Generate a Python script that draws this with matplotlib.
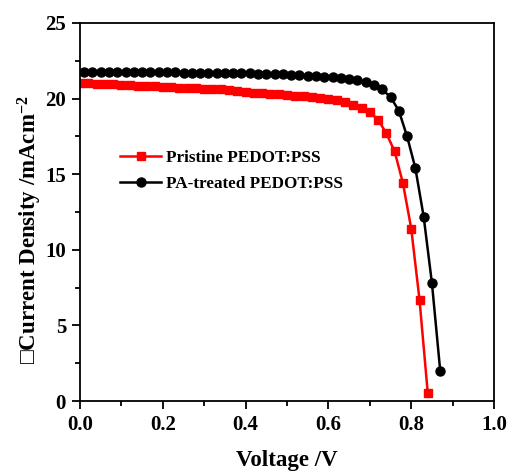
import numpy as np
import matplotlib
matplotlib.use('Agg')
import matplotlib.pyplot as plt

# J-V curves (V in volts, J in mA/cm2)
v_pristine = np.round(np.arange(0.0, 0.841, 0.02), 2)
j_pristine = [21.05, 21.0, 20.98, 20.95, 20.93, 20.9, 20.88, 20.85, 20.82, 20.8,
              20.78, 20.75, 20.72, 20.7, 20.68, 20.65, 20.62, 20.6, 20.55, 20.5,
              20.45, 20.4, 20.37, 20.33, 20.3, 20.25, 20.2, 20.15, 20.1, 20.05,
              20.0, 19.9, 19.8, 19.6, 19.4, 19.1, 18.6, 17.7, 16.5, 14.4,
              11.4, 6.7, 0.5]

v_pa = np.round(np.arange(0.01, 0.871, 0.02), 2)
j_pa = [21.76, 21.76, 21.76, 21.76, 21.75, 21.75, 21.75, 21.75, 21.74, 21.74,
        21.73, 21.73, 21.72, 21.72, 21.71, 21.7, 21.7, 21.69, 21.68, 21.67,
        21.66, 21.65, 21.64, 21.62, 21.6, 21.58, 21.55, 21.52, 21.48, 21.45,
        21.4, 21.35, 21.28, 21.2, 21.1,
        20.9, 20.6, 20.1, 19.2, 17.5, 15.4, 12.2, 7.8, 2.0]

plt.rcParams['font.family'] = ['Liberation Serif', 'DejaVu Sans']
plt.rcParams['font.weight'] = 'bold'
plt.rcParams['mathtext.fontset'] = 'custom'
plt.rcParams['mathtext.rm'] = 'Liberation Serif:bold'
plt.rcParams['mathtext.default'] = 'rm'

fig = plt.figure(figsize=(5.08, 4.72), dpi=100)
ax = fig.add_axes([0.1575, 0.1504, 0.815, 0.801])

ax.plot(v_pristine, j_pristine, color='red', marker='s', markersize=6, lw=1.8,
        label='Pristine PEDOT:PSS')
ax.plot(v_pa, j_pa, color='black', marker='o', markersize=6.5, lw=1.8,
        label='PA-treated PEDOT:PSS')

ax.set_xlim(0, 1.0)
ax.set_ylim(0, 25)
ax.set_xticks([0.0, 0.2, 0.4, 0.6, 0.8, 1.0])
ax.set_xticks([0.1, 0.3, 0.5, 0.7, 0.9], minor=True)
ax.set_yticks([0, 5, 10, 15, 20, 25])
ax.set_yticks([2.5, 7.5, 12.5, 17.5, 22.5], minor=True)
ax.set_xticklabels(['0.0', '0.2', '0.4', '0.6', '0.8', '1.0'])
ax.tick_params(which='both', direction='out', top=False, right=False, width=1.3)
ax.tick_params(which='major', length=6, labelsize=15, pad=4)
ax.tick_params(which='minor', length=3.5)
for s in ax.spines.values():
    s.set_linewidth(1.3)

ax.set_xlabel('Voltage /V', fontsize=16.5, fontweight='bold', labelpad=11)
ax.set_ylabel('\u25a1Current Density /mAcm$^{-2}$', fontsize=16.5, fontweight='bold')
ax.yaxis.set_label_coords(-0.087, 0.452)

ax.legend(loc='upper left', bbox_to_anchor=(0.06, 0.705), frameon=False,
          prop={'size': 12.3, 'weight': 'bold'}, handlelength=2.4, labelspacing=0.6,
          handletextpad=0.3)

fig.savefig('out.png', dpi=100)
